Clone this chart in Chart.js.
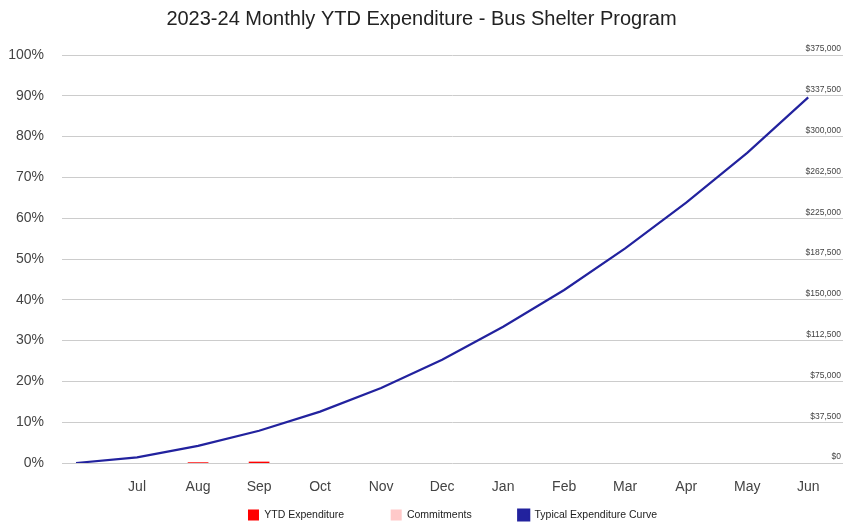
<!DOCTYPE html>
<html>
<head>
<meta charset="utf-8">
<title>Bus Shelter Program</title>
<script src="https://cdn.jsdelivr.net/npm/chart.js@4.4.1/dist/chart.umd.min.js"></script>
<style>
  html, body { margin: 0; padding: 0; background: #fff; }
</style>
</head>
<body>
<canvas id="chart" width="845" height="524"></canvas>
<script>
// categories (first slot is the empty start point of the curve)
const months = ['', 'Jul', 'Aug', 'Sep', 'Oct', 'Nov', 'Dec', 'Jan', 'Feb', 'Mar', 'Apr', 'May', 'Jun'];

// typical expenditure curve, % of budget
const typicalCurve = [0, 1.4, 4.2, 7.9, 12.6, 18.4, 25.3, 33.4, 42.4, 52.6, 63.8, 76.0, 89.6];

// YTD expenditure and commitments, $
const ytdExpenditure = [null, null, 300, 900, null, null, null, null, null, null, null, null, null];
const commitments = [null, null, 0, 0, null, null, null, null, null, null, null, null, null];

// axis ranges
const pctMax = 100, pctStep = 10;
const budgetMax = 375000, budgetStep = 37500;

const toPoints = arr => arr.map((v, i) => ({ x: i, y: v })).filter(p => p.y !== null);
const FONT = '"Liberation Sans", Arial, sans-serif';
const TEXT = '#444';

// google-style legend sits a bit right of centre
const legendShift = {
  id: 'legendShift',
  afterLayout(chart){
    const lg = chart.legend;
    if (!lg) return;
    lg.left += 31;
    lg.right += 31;
  }
};

new Chart(document.getElementById('chart'), {
  data: {
    datasets: [
      { type: 'bar', label: 'YTD Expenditure', data: toPoints(ytdExpenditure), yAxisID: 'yBudget',
        backgroundColor: '#ff0000', barThickness: 20, stack: 's' },
      { type: 'bar', label: 'Commitments', data: toPoints(commitments), yAxisID: 'yBudget',
        backgroundColor: '#ffc9c9', barThickness: 20, stack: 's' },
      { type: 'line', label: 'Typical Expenditure Curve', data: toPoints(typicalCurve), yAxisID: 'yPct',
        borderColor: '#22229e', backgroundColor: '#22229e', borderWidth: 2.2, pointRadius: 0, tension: 0 }
    ]
  },
  plugins: [legendShift],
  options: {
    responsive: false,
    animation: false,
    devicePixelRatio: 1,
    layout: { padding: { left: 0, right: 2, top: 0, bottom: -6.5 } },
    plugins: {
      title: { display: true, text: '2023-24 Monthly YTD Expenditure - Bus Shelter Program',
        color: '#222', font: { family: FONT, size: 20, weight: 'normal' }, padding: { top: 7, bottom: 24 } },
      legend: { position: 'bottom',
        labels: { boxWidth: 11, boxHeight: 11, padding: 46.5, color: '#222', font: { family: FONT, size: 10.5 } } },
      tooltip: { enabled: false }
    },
    scales: {
      x: {
        type: 'linear', min: -0.23, max: 12.57, stacked: true, offset: false,
        afterBuildTicks: s => { s.ticks = months.map((m, i) => ({ value: i })); },
        ticks: { callback: v => months[v], color: TEXT, font: { family: FONT, size: 14 }, mirror: true, padding: -33,
          maxRotation: 0, autoSkip: false },
        grid: { display: false, drawTicks: false },
        border: { display: false },
        afterFit: s => { s.height = 0; }
      },
      yPct: {
        position: 'left', min: 0, max: pctMax,
        ticks: { stepSize: pctStep, callback: v => v + '%', color: TEXT, font: { family: FONT, size: 14 }, padding: 18 },
        grid: { color: '#cccccc', drawTicks: false },
        border: { display: false },
        afterFit: s => { s.width = 62; }
      },
      yBudget: {
        position: 'right', min: 0, max: budgetMax, stacked: true,
        ticks: { stepSize: budgetStep, mirror: true, padding: -2, labelOffset: -6, color: TEXT,
          font: { family: FONT, size: 8.5 }, callback: v => '$' + v.toLocaleString('en-US') },
        grid: { display: false, drawTicks: false },
        border: { display: false },
        afterFit: s => { s.width = 0; }
      }
    }
  }
});
</script>
</body>
</html>
